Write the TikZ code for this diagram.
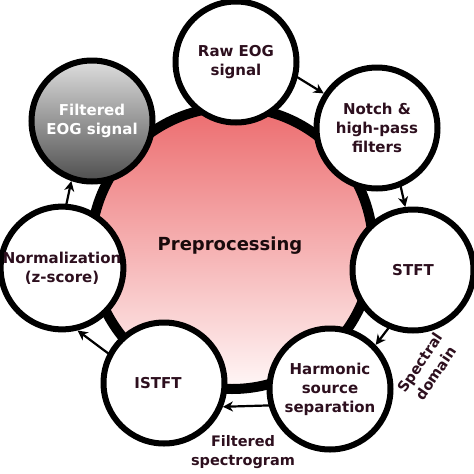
\documentclass[tikz,border=0pt]{standalone}
\usepackage{fontspec}
\setmainfont{DejaVu Sans}
\usetikzlibrary{arrows.meta}
\definecolor{txt}{RGB}{45,15,30}
\definecolor{pinktop}{RGB}{236,108,110}
\definecolor{pinkbot}{RGB}{255,247,247}
\definecolor{graytop}{RGB}{222,222,222}
\definecolor{graybot}{RGB}{78,78,78}
\begin{document}
\begin{tikzpicture}[x=1pt,y=-1pt,
  outer/.style={circle,draw=black,line width=6pt,fill=white,minimum size=121pt,inner sep=0pt,
    align=center,text=txt,font=\bfseries\fontsize{15}{19}\selectfont},
  flow/.style={line width=2.2pt,shorten <=-3pt,-{Stealth[length=10pt,width=10pt,inset=3pt]}},
  side/.style={text=txt,align=center,font=\bfseries\fontsize{14.5}{19}\selectfont}]
\useasboundingbox (0,0) rectangle (474,474);
\node[circle,draw=black,line width=10pt,minimum size=282pt,inner sep=0pt,
  top color=pinktop,bottom color=pinkbot] (pre) at (232,248) {};
\node[font=\bfseries\fontsize{18}{20}\selectfont,text={rgb,255:red,25;green,10;blue,12}] (pretxt) at (230,246) {Preprocessing};
\node[outer] (raw) at (236,62) {Raw EOG\\signal};
\node[outer] (notch) at (377,128) {Notch \&\\high-pass\\filters};
\node[outer] (stft) at (413,270) {STFT};
\node[outer] (hss) at (330,389) {Harmonic\\source\\separation};
\node[outer] (istft) at (164,383) {\hspace*{-12pt}ISTFT};
\node[outer] (norm) at (62,268) {Normalization\\(z-score)};
\node[outer,top color=graytop,bottom color=graybot,text=white] (filt) at (92,121) {Filtered\\EOG signal};
\draw[flow] (raw.-14) -- (notch.147);
\draw[flow] (notch.-68) -- (stft.97);
\draw[flow] (stft.-113) -- (hss.44);
\draw[flow] (hss.195) -- (istft.-22);
\draw[flow] (istft.152) -- (norm.-76);
\draw[flow] (norm.86) -- (filt.-109);
\node[side] (spec) at (243,452) {Filtered\\spectrogram};
\node[side,rotate=56] (dom) at (428,368) {Spectral\\domain};
\end{tikzpicture}
\end{document}
